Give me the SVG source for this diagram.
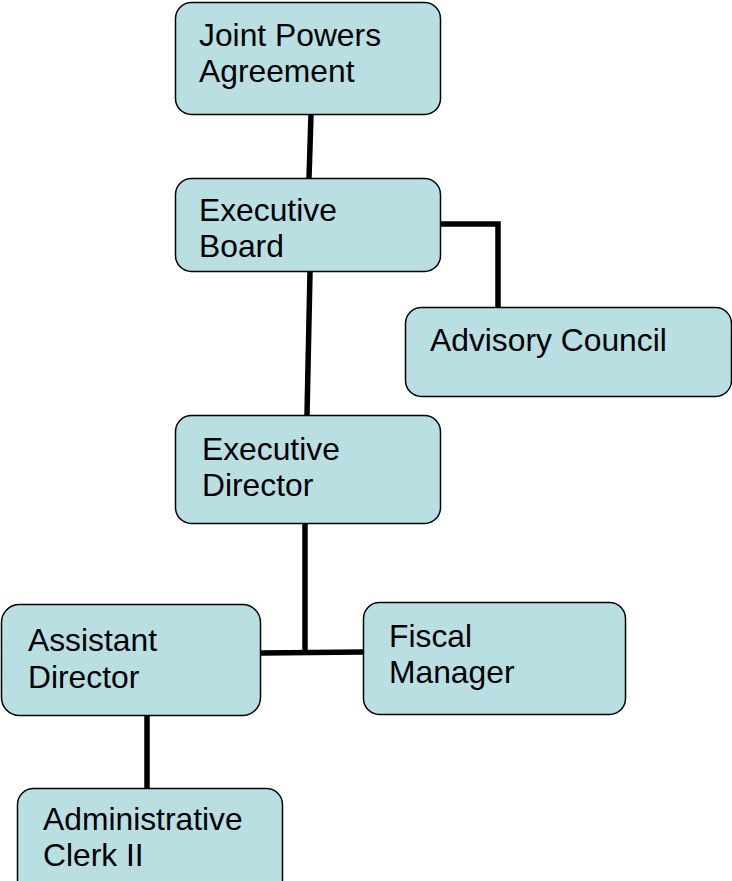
<svg xmlns="http://www.w3.org/2000/svg" width="732" height="881" viewBox="0 0 732 881">
<style>
.box{fill:#b9dfe3;stroke:#000;stroke-width:1.5}
.t{font-family:"Liberation Sans",Arial,sans-serif;font-size:31.8px;fill:#000}
.c{fill:none;stroke:#000;stroke-width:5.5}
</style>
<rect width="732" height="881" fill="#fff"/>
<g id="connectors">
<path class="c" d="M311,115 L309,178"/>
<path class="c" d="M310,272 L307,415"/>
<path class="c" d="M441,224 L498,224 L498,307"/>
<path class="c" d="M305,524 L305,652"/>
<path class="c" d="M261,653 L363,652"/>
<path class="c" d="M147,716 L147,788"/>
</g>
<g id="joint-powers">
<rect class="box" x="175.5" y="2.5" width="265" height="112" rx="16"/>
<text class="t" x="199" y="46">Joint Powers</text>
<text class="t" x="199" y="82">Agreement</text>
</g>
<g id="executive-board">
<rect class="box" x="175.5" y="178.5" width="265" height="93" rx="16"/>
<text class="t" x="199" y="221">Executive</text>
<text class="t" x="199" y="257">Board</text>
</g>
<g id="advisory-council">
<rect class="box" x="405.5" y="307.5" width="326" height="89" rx="16"/>
<text class="t" x="430" y="351">Advisory Council</text>
</g>
<g id="executive-director">
<rect class="box" x="175.5" y="415.5" width="265" height="108" rx="16"/>
<text class="t" x="202" y="460">Executive</text>
<text class="t" x="202" y="496">Director</text>
</g>
<g id="assistant-director">
<rect class="box" x="1.5" y="604.5" width="259" height="111" rx="18"/>
<text class="t" x="28" y="651">Assistant</text>
<text class="t" x="28" y="688">Director</text>
</g>
<g id="fiscal-manager">
<rect class="box" x="363.5" y="602.5" width="262" height="112" rx="16"/>
<text class="t" x="389" y="647">Fiscal</text>
<text class="t" x="389" y="683">Manager</text>
</g>
<g id="administrative-clerk">
<rect class="box" x="17.5" y="788.5" width="265" height="112" rx="16"/>
<text class="t" x="43" y="830">Administrative</text>
<text class="t" x="43" y="866">Clerk II</text>
</g>
</svg>
